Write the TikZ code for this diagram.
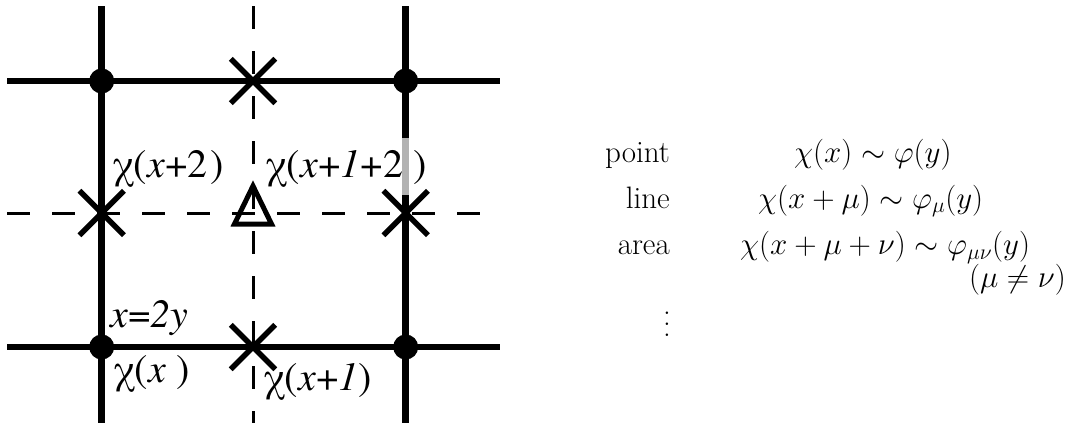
\RequirePackage{fix-cm}
\documentclass[tikz,border=0pt]{standalone}
\usepackage{fontspec}
\newfontfamily\tms{texgyretermes}[Extension=.otf, UprightFont=*-regular, ItalicFont=*-italic, BoldFont=*-bold, BoldItalicFont=*-bolditalic]
\usetikzlibrary{shapes.misc}
\newcommand{\myvdots}{\vbox{\baselineskip=0.34em \lineskiplimit=-1em \kern0.6em\hbox{.}\hbox{.}\hbox{.}}}
\begin{document}
\begin{tikzpicture}[x=1pt,y=-1pt,
  solidline/.style={line width=6.5pt},
  dashline/.style={line width=3pt, dash pattern=on 23pt off 22pt},
  dot/.style={circle, fill=black, inner sep=0pt, minimum size=25pt},
  xmark/.style={cross out, draw=black, line width=5.5pt, inner sep=0pt, minimum size=39pt},
  lab/.style={font=\tms\fontsize{40}{45}\selectfont, inner sep=0pt, anchor=base west},
  txt/.style={font=\fontsize{31}{37}\selectfont, inner sep=0pt}]
\useasboundingbox (0,0) rectangle (1071,423);
% grid coordinates
\coordinate (L1) at (7,81);   \coordinate (R1) at (500,81);
\coordinate (L2) at (7,347);  \coordinate (R2) at (500,347);
\coordinate (Hl) at (7,213);  \coordinate (Hr) at (485,213);
\coordinate (V1t) at (101.7,6); \coordinate (V1b) at (101.7,423);
\coordinate (V2t) at (405.7,6); \coordinate (V2b) at (405.7,423);
\coordinate (Dt) at (253,6);  \coordinate (Db) at (253,423);
\coordinate (G1) at (405.7,138); \coordinate (G2) at (405.7,195);
% dashed lines
\draw[dashline] (Dt) -- (Db);
\draw[dashline] (Hl) -- (Hr);
% solid lines
\draw[solidline] (L1) -- (R1);
\draw[solidline] (L2) -- (R2);
\draw[solidline] (V1t) -- (V1b);
\draw[solidline] (V2t) -- (V2b);
\draw[solidline, draw=black!30] (G1) -- (G2);
% dots
\node[dot] (d1) at (101.7,81) {};
\node[dot] (d2) at (405.7,81) {};
\node[dot] (d3) at (101.7,347) {};
\node[dot] (d4) at (405.7,347) {};
% crosses
\node[xmark] (c1) at (253,81) {};
\node[xmark] (c2) at (101.7,213) {};
\node[xmark] (c3) at (405.7,213) {};
\node[xmark] (c4) at (253,347) {};
% triangle
\coordinate (T1) at (253,186);
\coordinate (T2) at (234.5,224);
\coordinate (T3) at (271.5,224);
\draw[line width=5pt, miter limit=10] (T1) -- (T2) -- (T3) -- cycle;
% labels
\node[lab] (l1) at (112,177) {χ(\textit{x}+2\kern0.08em)};
\node[lab] (l2) at (265,177) {χ(\textit{x}+\textit{1}+2 )};
\node[lab] (l3) at (110,327) {\textit{x}=\textit{2y}};
\node[lab] (l4) at (113,382) {χ(\textit{x} )};
\node[lab] (l5) at (263,390) {χ(\textit{x}+\textit{1})};
% right column
\node[txt, anchor=base east] (p) at (670,162.5) {point};
\node[txt, anchor=base east] (ln) at (670,208) {line};
\node[txt, anchor=base east] (ar) at (670,254.5) {area};
\node[txt, anchor=base west] (pf) at (794,162.5) {$\chi(x)\sim\varphi(y)$};
\node[txt, anchor=base west] (lf) at (758,208) {$\chi(x+\mu)\sim\varphi_\mu(y)$};
\node[txt, anchor=base west] (af) at (740,254.5) {$\chi(x+\mu+\nu)\sim\varphi_{\mu\nu}(y)$};
\node[txt, anchor=base east] (ne) at (1066,287) {$(\mu\neq\nu)$};
\node[txt, anchor=base] (vd) at (667,336) {\myvdots};
\end{tikzpicture}
\end{document}
